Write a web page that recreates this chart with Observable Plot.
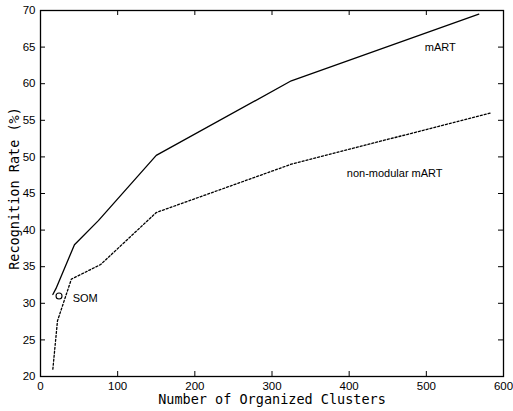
<!DOCTYPE html>
<html>
<head>
<meta charset="utf-8">
<script src="https://cdn.jsdelivr.net/npm/d3@7"></script>
<script src="https://cdn.jsdelivr.net/npm/@observablehq/plot@0.6"></script>
<style>
  html, body { margin: 0; padding: 0; background: #fff; }
  #chart { width: 513px; height: 411px; }
</style>
</head>
<body>
<div id="chart"></div>
<script>
// Data
const martX = [16, 20, 44, 75, 150, 325, 568];
const martY = [31.2, 32.0, 38.0, 41.3, 50.2, 60.4, 69.5];

const nonModX = [16, 22, 40, 78, 150, 325, 583];
const nonModY = [21.0, 27.6, 33.3, 35.3, 42.4, 49.0, 56.0];

const somX = [24];
const somY = [31];

const labelText = ["mART", "non-modular mART", "SOM"];
const labelX = [518, 459, 58];
const labelY = [64.9, 47.8, 30.7];

const xTicks = [0, 100, 200, 300, 400, 500, 600];
const yTicks = [20, 25, 30, 35, 40, 45, 50, 55, 60, 65, 70];

const xTitle = "Number of Organized Clusters";
const yTitle = "Recognition Rate (%)";

// Build tables
const mart = martX.map((x, i) => ({x, y: martY[i]}));
const nonMod = nonModX.map((x, i) => ({x, y: nonModY[i]}));
const som = somX.map((x, i) => ({x, y: somY[i]}));
const labels = labelText.map((t, i) => ({t, x: labelX[i], y: labelY[i]}));

const W = 513, H = 411;
const mL = 40, mR = 10, mT = 10, mB = 35;
const innerW = W - mL - mR, innerH = H - mT - mB;
const tick = 5;
const mono = "'DejaVu Sans Mono', monospace";
const sans = "'Liberation Sans', Arial, Helvetica, sans-serif";

const chart = Plot.plot({
  width: W,
  height: H,
  marginLeft: mL,
  marginRight: mR,
  marginTop: mT,
  marginBottom: mB,
  style: {background: "#fff", fontFamily: sans, fontSize: "12px", color: "#000"},
  x: {domain: [0, 600]},
  y: {domain: [20, 70]},
  marks: [
    Plot.axisX({ticks: xTicks, tickSize: 0, tickPadding: 5, label: null, fontSize: 11.5}),
    Plot.axisY({ticks: yTicks, tickSize: 0, tickPadding: 5, label: null, fontSize: 11.5}),
    // inward ticks on all four sides
    Plot.tickX(xTicks, {x: d => d, insetTop: innerH - tick, stroke: "#000"}),
    Plot.tickX(xTicks, {x: d => d, insetBottom: innerH - tick, stroke: "#000"}),
    Plot.tickY(yTicks, {y: d => d, insetRight: innerW - tick, stroke: "#000"}),
    Plot.tickY(yTicks, {y: d => d, insetLeft: innerW - tick, stroke: "#000"}),
    Plot.frame({stroke: "#000", strokeWidth: 1.3}),
    Plot.line(mart, {x: "x", y: "y", stroke: "#000", strokeWidth: 1.3}),
    Plot.line(nonMod, {x: "x", y: "y", stroke: "#000", strokeWidth: 1.3, strokeDasharray: "2,2"}),
    Plot.dot(som, {x: "x", y: "y", r: 3, stroke: "#000", fill: "none", strokeWidth: 1.1}),
    Plot.text(labels, {x: "x", y: "y", text: "t", fontSize: 11, fill: "#000"}),
    Plot.text([xTitle], {frameAnchor: "bottom", dy: 27, fontFamily: mono, fontSize: 13.5, fill: "#000"}),
    Plot.text([yTitle], {frameAnchor: "left", textAnchor: "middle", dx: -26, dy: -5, rotate: -90, fontFamily: mono, fontSize: 13.5, fill: "#000"})
  ]
});

document.getElementById("chart").appendChild(chart);
</script>
</body>
</html>
